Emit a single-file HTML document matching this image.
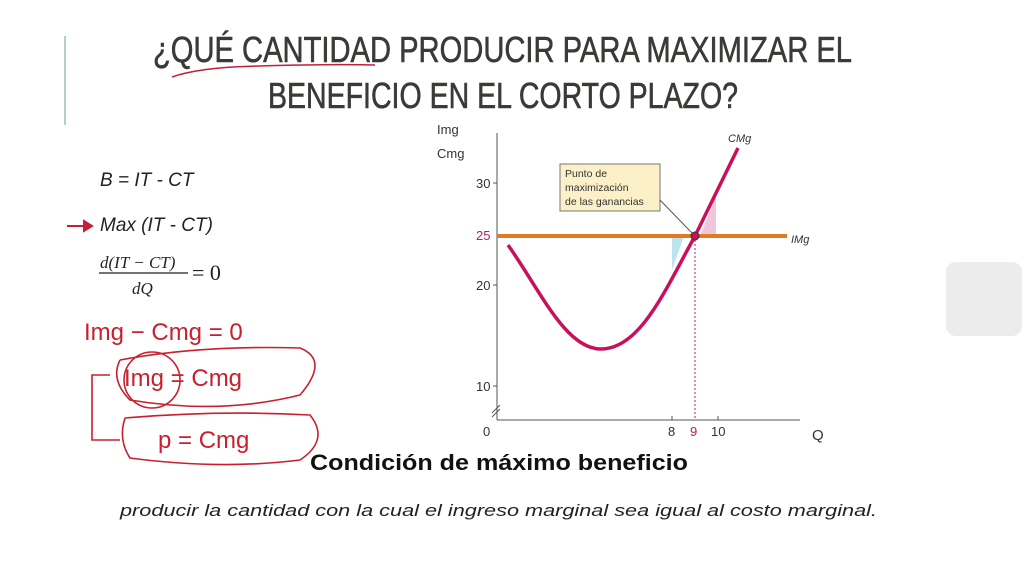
<!DOCTYPE html>
<html><head><meta charset="utf-8"><style>
html,body{margin:0;padding:0;background:#fff;width:1024px;height:576px;overflow:hidden}
svg{display:block}
</style></head><body>
<svg width="1024" height="576" viewBox="0 0 1024 576" xmlns="http://www.w3.org/2000/svg" font-family="Liberation Sans, sans-serif">
<rect width="1024" height="576" fill="#fff"/>
<line x1="65" y1="36" x2="65" y2="125" stroke="#b7cfc9" stroke-width="2"/>
<rect x="946" y="262" width="76" height="74" rx="10" fill="#ececec"/>
<g fill="#3a3a36" stroke="#3a3a36" stroke-width="0.6" font-size="36">
<text x="153" y="62" textLength="699" lengthAdjust="spacingAndGlyphs">¿QUÉ CANTIDAD PRODUCIR PARA MAXIMIZAR EL</text>
<text x="268" y="108" textLength="470" lengthAdjust="spacingAndGlyphs">BENEFICIO EN EL CORTO PLAZO?</text>
</g>
<path d="M172 77 Q200 67 260 66 Q330 64 375 65" stroke="#c0203a" stroke-width="1.5" fill="none"/>
<g fill="#222" font-size="19" font-style="italic">
<text x="100" y="186">B = IT - CT</text>
<text x="100" y="231">Max (IT - CT)</text>
</g>
<path d="M67 226 H88 M84 221 L92 226 L84 231Z" stroke="#c0203a" stroke-width="2" fill="#c0203a"/>
<g font-family="Liberation Serif, serif" fill="#222">
<text x="100" y="268" font-size="17" font-style="italic">d(IT − CT)</text>
<line x1="99" y1="273" x2="188" y2="273" stroke="#222" stroke-width="1.3"/>
<text x="132" y="294" font-size="17" font-style="italic">dQ</text>
<text x="192" y="280" font-size="22">= 0</text>
</g>
<g stroke="#c8202e" stroke-width="1.6" fill="none">
<text x="84" y="340" font-size="24" fill="#c8202e" stroke="none">Img − Cmg = 0</text>
<text x="124" y="386" font-size="24" fill="#c8202e" stroke="none">Img = Cmg</text>
<text x="158" y="448" font-size="24" fill="#c8202e" stroke="none">p = Cmg</text>
<path d="M120 360 Q200 345 300 348 Q330 360 300 395 Q220 415 130 400 Q110 380 120 360"/>
<circle cx="152" cy="380" r="28"/>
<path d="M125 418 Q220 410 310 415 Q330 440 300 460 Q220 470 130 458 Q118 440 125 418"/>
<path d="M110 375 H92 V440 H120"/>
</g>
<g font-size="13" fill="#333">
<text x="437" y="134">Img</text>
<text x="437" y="158">Cmg</text>
<text x="476" y="188">30</text>
<text x="476" y="240" fill="#b0206a">25</text>
<text x="476" y="290">20</text>
<text x="476" y="391">10</text>
<text x="483" y="436">0</text>
<text x="668" y="436">8</text>
<text x="690" y="436" fill="#b0206a">9</text>
<text x="711" y="436">10</text>
<text x="812" y="440" font-size="15">Q</text>
<text x="728" y="142" font-style="italic" font-size="11">CMg</text>
<text x="791" y="243" font-style="italic" font-size="11">IMg</text>
</g>
<g stroke="#555" stroke-width="1">
<line x1="497" y1="133" x2="497" y2="420"/>
<line x1="497" y1="420" x2="800" y2="420"/>
<line x1="493" y1="183" x2="497" y2="183"/><line x1="493" y1="285" x2="497" y2="285"/><line x1="493" y1="386" x2="497" y2="386"/>
<line x1="672" y1="416" x2="672" y2="420"/><line x1="718" y1="416" x2="718" y2="420"/>
<line x1="492" y1="413" x2="500" y2="405"/><line x1="492" y1="417" x2="500" y2="409"/>
</g>
<path d="M672 236 H684 L672 270Z" fill="#bde3f0"/>
<path d="M700 236 H716 V196 Z" fill="#f0c6dc"/>
<line x1="695" y1="236" x2="695" y2="420" stroke="#b0206a" stroke-dasharray="2,2"/>
<line x1="497" y1="236" x2="787" y2="236" stroke="#e07b22" stroke-width="4"/>
<rect x="560" y="164" width="100" height="47" fill="#fbf0c8" stroke="#777"/>
<g font-size="10.5" fill="#333"><text x="565" y="177">Punto de</text><text x="565" y="191">maximización</text><text x="565" y="205">de las ganancias</text></g>
<line x1="660" y1="200" x2="692" y2="233" stroke="#555"/>
<path d="M508 245 C540 290 565 348 600 349 C640 350 665 290 695 236 C710 205 725 175 738 148" stroke="#c8105c" stroke-width="3.5" fill="none"/>
<circle cx="695" cy="236" r="4" fill="#c8105c" stroke="#333"/>
<text x="310" y="470" font-size="22" font-weight="bold" fill="#111" textLength="378" lengthAdjust="spacingAndGlyphs">Condición de máximo beneficio</text>
<text x="120" y="516" font-size="17" font-style="italic" fill="#222" textLength="757" lengthAdjust="spacingAndGlyphs">producir la cantidad con la cual el ingreso marginal sea igual al costo marginal.</text>
</svg>
</body></html>
